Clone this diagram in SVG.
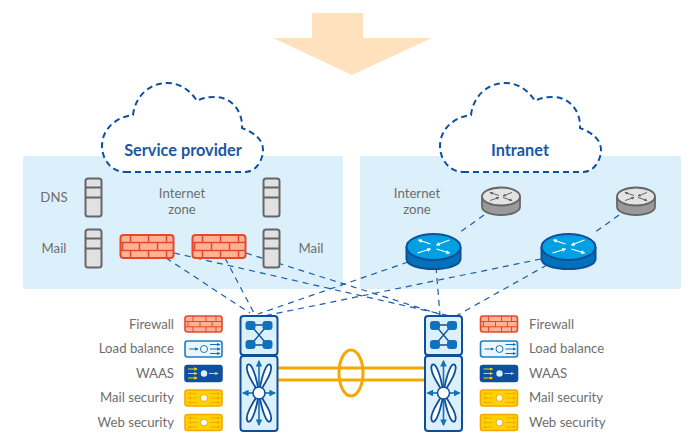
<svg xmlns="http://www.w3.org/2000/svg" width="699" height="439" viewBox="0 0 699 439">
<style>
text{font-family:Lato,"Open Sans","Liberation Sans",sans-serif;font-size:13.200px;fill:#6e6e6e}
.t{font-size:16.300px;font-weight:700;fill:#1b57a4;text-anchor:middle}
.m{text-anchor:middle}.e{text-anchor:end}
.panel{fill:#dcf0fc}
.cloud{fill:#fff;stroke:#0f4fa0;stroke-width:2;stroke-dasharray:6 4}
.link{fill:none;stroke:#1b5cab;stroke-width:1.200;stroke-dasharray:6 5}
.ol{fill:none;stroke:#f5a800;stroke-width:3}
.aw{stroke:#fff;stroke-width:1.200;marker-end:url(#aw)}
.ag{stroke:#666;stroke-width:1;marker-end:url(#ag)}
.ab{stroke:#0f72bb;stroke-width:1;marker-end:url(#ab)}
.ay{stroke:#ffd200;stroke-width:1;marker-end:url(#ay)}
.ao{stroke:#f5a800;stroke-width:1;marker-end:url(#ao)}
.abl{stroke:#0f72bb;stroke-width:1.600;marker-end:url(#abl)}
</style>
<defs>
<marker id="aw" viewBox="0 0 6 6" refX="5" refY="3" markerWidth="3.400" markerHeight="3.400" orient="auto"><path d="M0 0L6 3L0 6z" fill="#fff"/></marker>
<marker id="ag" viewBox="0 0 6 6" refX="5" refY="3" markerWidth="3.400" markerHeight="3.400" orient="auto"><path d="M0 0L6 3L0 6z" fill="#666"/></marker>
<marker id="ab" viewBox="0 0 6 6" refX="5" refY="3" markerWidth="3.400" markerHeight="3.400" orient="auto"><path d="M0 0L6 3L0 6z" fill="#0f72bb"/></marker>
<marker id="abl" viewBox="0 0 6 6" refX="5" refY="3" markerWidth="4.200" markerHeight="4.200" orient="auto"><path d="M0 0L6 3L0 6z" fill="#0f72bb"/></marker>
<marker id="ay" viewBox="0 0 6 6" refX="5" refY="3" markerWidth="3.400" markerHeight="3.400" orient="auto"><path d="M0 0L6 3L0 6z" fill="#ffd200"/></marker>
<marker id="ao" viewBox="0 0 6 6" refX="5" refY="3" markerWidth="3.400" markerHeight="3.400" orient="auto"><path d="M0 0L6 3L0 6z" fill="#f5a800"/></marker>
<g id="server">
<rect x="1" y="1" width="16" height="38" rx="2.500" fill="#e1e1e1" stroke="#666" stroke-width="2"/>
<path d="M1 10H17M1 20H17" stroke="#666" stroke-width="2"/>
</g>
<g id="fw">
<rect x="1" y="1" width="53" height="23" rx="3" fill="#fbb396" stroke="#e8472a" stroke-width="2"/>
<path d="M1 8.500H54M1 16.500H54M11 1V8.500M29 1V8.500M47 1V8.500M3 8.500V16.500M20 8.500V16.500M38 8.500V16.500M11 16.500V24M29 16.500V24M47 16.500V24" stroke="#e8472a" stroke-width="1.500" fill="none"/>
</g>
<g id="fws">
<rect x="1" y="1" width="37" height="16" rx="2.500" fill="#fbb396" stroke="#e8472a" stroke-width="1.600"/>
<path d="M1 6.500H38M1 11.800H38M9 1V6.500M22 1V6.500M32 1V6.500M4 6.500V11.800M16 6.500V11.800M28 6.500V11.800M9 11.800V17M22 11.800V17M32 11.800V17" stroke="#e8472a" stroke-width="1" fill="none"/>
</g>
<g id="rg">
<path d="M1 10V20C1 25 9 28.500 20 28.500S39 25 39 20V10" fill="#9a9a9a" stroke="#666" stroke-width="1.800"/>
<ellipse cx="20" cy="10" rx="19" ry="9" fill="#e3e3e3" stroke="#666" stroke-width="1.800"/>
<path class="ag" d="M18 9L9 6"/><path class="ag" d="M31 6L22 9.500"/><path class="ag" d="M9 14L18 11"/><path class="ag" d="M22 11L31 14"/>
</g>
<g id="rb">
<path d="M1 18V30C1 36 13 40 28 40S55 36 55 30V18" fill="#0072bc" stroke="#0f4f9a" stroke-width="2"/>
<ellipse cx="28" cy="18" rx="27" ry="13" fill="#00a0e3" stroke="#0f4f9a" stroke-width="2"/>
<path class="aw" d="M25 15L13 11"/><path class="aw" d="M44 11L31 16"/><path class="aw" d="M12 24L25 20"/><path class="aw" d="M31 20L44 24"/>
</g>
<g id="lb">
<rect x="1" y="1" width="37" height="16" rx="2.500" fill="#eaf6fd" stroke="#1c7fc4" stroke-width="1.600"/>
<path class="ab" d="M5 9H14"/>
<circle cx="20" cy="9" r="3.500" fill="#fff" stroke="#0f72bb" stroke-width="1"/>
<path class="ab" d="M26 4.500H36"/><path class="ab" d="M26 9H36"/><path class="ab" d="M26 13.500H36"/>
</g>
<g id="wa">
<rect x="1" y="1" width="37" height="16" rx="2.500" fill="#0f4f9f" stroke="#0f4f9a" stroke-width="1.600"/>
<path class="ay" d="M4 4.500H13"/><path class="ay" d="M4 9H13"/><path class="ay" d="M4 13.500H13"/><path class="ay" d="M25 9H34"/>
<circle cx="20" cy="9" r="3.200" fill="#dcf0fc"/>
</g>
<g id="sec">
<rect x="1" y="1" width="37" height="16" rx="2.500" fill="#ffd200" stroke="#f5a800" stroke-width="1.600"/>
<path class="ao" d="M13 4.500H4"/><path class="ao" d="M13 9H4"/><path class="ao" d="M13 13.500H4"/><path class="ao" d="M26 4.500H36"/><path class="ao" d="M26 9H36"/><path class="ao" d="M26 13.500H36"/>
<circle cx="20" cy="9" r="3.500" fill="#fff" stroke="#f5a800" stroke-width="1"/>
</g>
<g id="sw">
<rect x="1" y="1" width="37" height="39" rx="3" fill="#dcf0fc" stroke="#0f4f9a" stroke-width="2"/>
<path d="M11 10H28M11 30H28M11 10L28 30M28 10L11 30" stroke="#0f4f9a" stroke-width="1.300" fill="none"/>
<rect x="6" y="6" width="10" height="9" rx="3" fill="#0f72bb"/><rect x="23" y="6" width="10" height="9" rx="3" fill="#0f72bb"/>
<rect x="6" y="25" width="10" height="9" rx="3" fill="#0f72bb"/><rect x="23" y="25" width="10" height="9" rx="3" fill="#0f72bb"/>
<rect x="1" y="41" width="37" height="75" rx="3" fill="#dcf0fc" stroke="#0f4f9a" stroke-width="2"/>
<path d="M19.500 78C12 66 5 55 8 50C12 46 17 62 19.500 78C22 62 27 46 31 50C34 55 27 66 19.500 78C27 90 34 101 31 106C27 110 22 94 19.500 78C17 94 12 110 8 106C5 101 12 90 19.500 78Z" fill="#fff" stroke="#0f4f9a" stroke-width="1.800"/>
<path class="abl" d="M19.500 78V46"/><path class="abl" d="M19.500 78V110"/><path class="abl" d="M19.500 78H3.500"/><path class="abl" d="M19.500 78H35.500"/>
<circle cx="19.500" cy="78" r="6" fill="#fff" stroke="#0f4f9a" stroke-width="1.500"/>
</g>
</defs>

<polygon id="arrow" points="312,13 363,13 363,38 432,38 352,75 273,38 312,38" fill="#ffe2bd"/>

<rect class="panel" x="23" y="156" width="320" height="133" rx="2"/>
<rect class="panel" x="360" y="156" width="321" height="133" rx="2"/>

<g id="connectors">
<path class="link" d="M166 258L250 313M174 253L450 316M225 258L254 313M246 253L442 315M408 262L258 314M436 267L440 315M541 259L264 316M547 265L456 316M484 215L459 233M619 215L594 233"/>
</g>

<g id="cloud-sp">
<path class="cloud" d="M125 172H245C256 172 263 160 263 150C263 140 255 133 242 128C243 112 232 97 215 97C208 97 202 98 197 101C190 90 180 83 167 83C150 83 135 96 133 115C115 117 102 130 102 146C102 160 112 172 125 172Z"/>
<text class="t" x="183" y="156">Service provider</text>
</g>
<g id="cloud-in">
<path class="cloud" d="M463 172H583C594 172 601 160 601 150C601 140 593 133 580 128C581 112 570 97 553 97C546 97 540 98 535 101C528 90 518 83 505 83C488 83 473 96 471 115C453 117 440 130 440 146C440 160 450 172 463 172Z"/>
<text class="t" x="520" y="156">Intranet</text>
</g>

<g id="srv-dns"><use href="#server" x="84.500" y="177.500"/><text class="m" x="54" y="202">DNS</text></g>
<g id="srv-mail-l"><use href="#server" x="84.500" y="228.500"/><text class="m" x="54" y="253">Mail</text></g>
<g id="srv-tr"><use href="#server" x="262.500" y="177.500"/></g>
<g id="srv-mail-r"><use href="#server" x="262.500" y="228.500"/><text class="m" x="311" y="253">Mail</text></g>
<g id="zone-l"><text class="m" x="182" y="198">Internet</text><text class="m" x="182" y="214">zone</text></g>
<g id="fw-1"><use href="#fw" x="119.500" y="234"/></g>
<g id="fw-2"><use href="#fw" x="191.500" y="234"/></g>

<g id="zone-r"><text class="m" x="417" y="198">Internet</text><text class="m" x="417" y="214">zone</text></g>
<g id="rg-1"><use href="#rg" x="481" y="186.500"/></g>
<g id="rg-2"><use href="#rg" x="616" y="186.500"/></g>
<g id="rb-1"><use href="#rb" x="405.500" y="229"/></g>
<g id="rb-2"><use href="#rb" x="540.500" y="229"/></g>

<g id="lag">
<path class="ol" d="M278 368H424M278 380H424"/>
<ellipse class="ol" cx="351" cy="373" rx="12" ry="23"/>
</g>

<g id="sw-l"><use href="#sw" x="239.500" y="315"/></g>
<g id="sw-r"><use href="#sw" x="424" y="315"/></g>

<g id="legend-l">
<use href="#fws" x="184" y="315"/><text class="e" x="174" y="329">Firewall</text>
<use href="#lb" x="184" y="340"/><text class="e" x="174" y="353">Load balance</text>
<use href="#wa" x="184" y="364.500"/><text class="e" x="174" y="378">WAAS</text>
<use href="#sec" x="184" y="389"/><text class="e" x="174" y="402">Mail security</text>
<use href="#sec" x="184" y="413.500"/><text class="e" x="174" y="427">Web security</text>
</g>
<g id="legend-r">
<use href="#fws" x="479.500" y="315"/><text x="529" y="329">Firewall</text>
<use href="#lb" x="479.500" y="340"/><text x="529" y="353">Load balance</text>
<use href="#wa" x="479.500" y="364.500"/><text x="529" y="378">WAAS</text>
<use href="#sec" x="479.500" y="389"/><text x="529" y="402">Mail security</text>
<use href="#sec" x="479.500" y="413.500"/><text x="529" y="427">Web security</text>
</g>
</svg>
